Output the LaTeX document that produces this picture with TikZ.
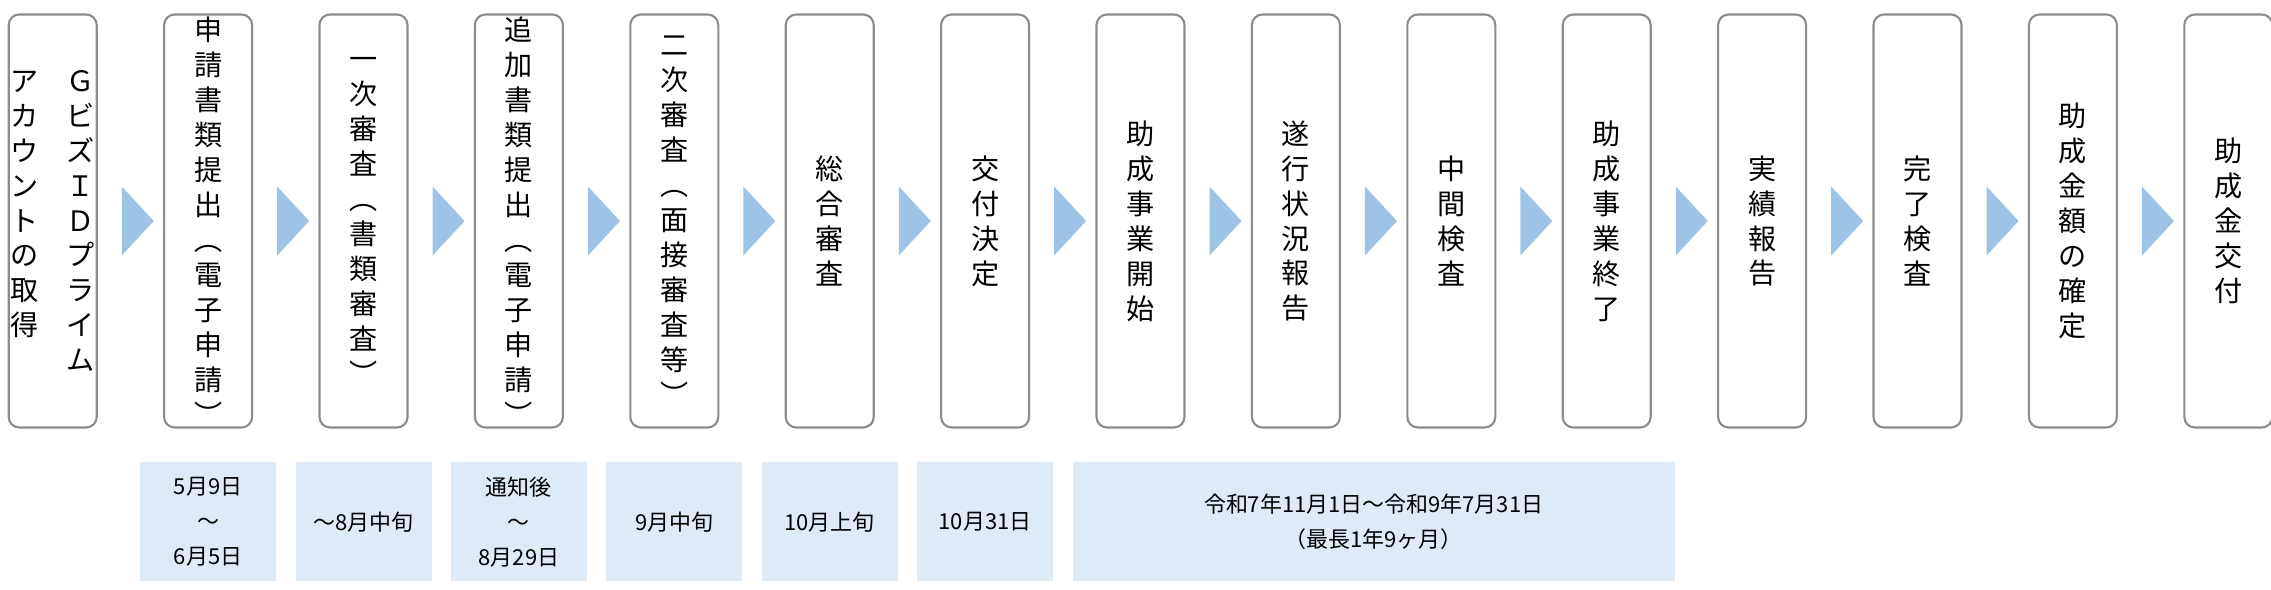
\documentclass[tikz,border=0pt]{standalone}
\usepackage{fontspec}
\setmainfont{Noto Sans CJK JP}
\usepackage{tikz}
\usetikzlibrary{calc}
\definecolor{stepline}{HTML}{8C8C8C}
\definecolor{arrowblue}{HTML}{9DC3E6}
\definecolor{termfill}{HTML}{DEEAF6}

\begin{document}
\begin{tikzpicture}[x=0.02cm,y=-0.02cm,
    stepbox/.style={draw=stepline,line width=1.2pt,rounded corners=6pt,fill=white,
      minimum width=88*0.02cm,minimum height=413*0.02cm,inner sep=0pt,align=center,
      font=\fontsize{16}{19.9}\selectfont},
    termbox/.style={fill=termfill,minimum height=119*0.02cm,inner sep=0pt,align=center,
      font=\fontsize{12.5}{20}\selectfont}]
            \useasboundingbox (0,0) rectangle (2271,590);
            % steps
            \node[stepbox] (s0) at (52.7,221) {ア　Ｇ\\カ　ビ\\ウ　ズ\\ン　Ｉ\\ト　Ｄ\\の　プ\\取　ラ\\得　イ\\　　ム};
            \foreach \t [count=\i] in {申\\請\\書\\類\\提\\出\\︵\\電\\子\\申\\請\\︶,
                一\\次\\審\\査\\︵\\書\\類\\審\\査\\︶,
                追\\加\\書\\類\\提\\出\\︵\\電\\子\\申\\請\\︶,
                二\\次\\審\\査\\︵\\面\\接\\審\\査\\等\\︶,
                総\\合\\審\\査, 交\\付\\決\\定, 助\\成\\事\\業\\開\\始,
                遂\\行\\状\\況\\報\\告, 中\\間\\検\\査, 助\\成\\事\\業\\終\\了,
                実\\績\\報\\告, 完\\了\\検\\査, 助\\成\\金\\額\\の\\確\\定, 助\\成\\金\\交\\付}
              \node[stepbox] (s\i) at (52.7+155.4*\i,221) {\t};
            % arrows
            \foreach \i [count=\j from 0] in {1,...,14}
              \fill[arrowblue] ($(s\j.east)+(24,-34.5)$) -- ($(s\j.east)+(56,0)$) -- ($(s\j.east)+(24,34.5)$) -- cycle;
            % terms
            \node[termbox,minimum width=136*0.02cm] (t1) at ($(s1)+(0,301)$) {5月9日\\〜\\6月5日};
            \node[termbox,minimum width=136*0.02cm] (t2) at ($(s2)+(0,301)$) {〜8月中旬};
            \node[termbox,minimum width=136*0.02cm] (t3) at ($(s3)+(0,301)$) {通知後\\〜\\8月29日};
            \node[termbox,minimum width=136*0.02cm] (t4) at ($(s4)+(0,301)$) {9月中旬};
            \node[termbox,minimum width=136*0.02cm] (t5) at ($(s5)+(0,301)$) {10月上旬};
            \node[termbox,minimum width=136*0.02cm] (t6) at ($(s6)+(0,301)$) {10月31日};
            \node[termbox,minimum width=602*0.02cm] (t7) at ($(s7)!0.5!(s10)+(0,301)$) {令和7年11月1日〜令和9年7月31日\\（最長1年9ヶ月）};
        \end{tikzpicture}
\end{document}
